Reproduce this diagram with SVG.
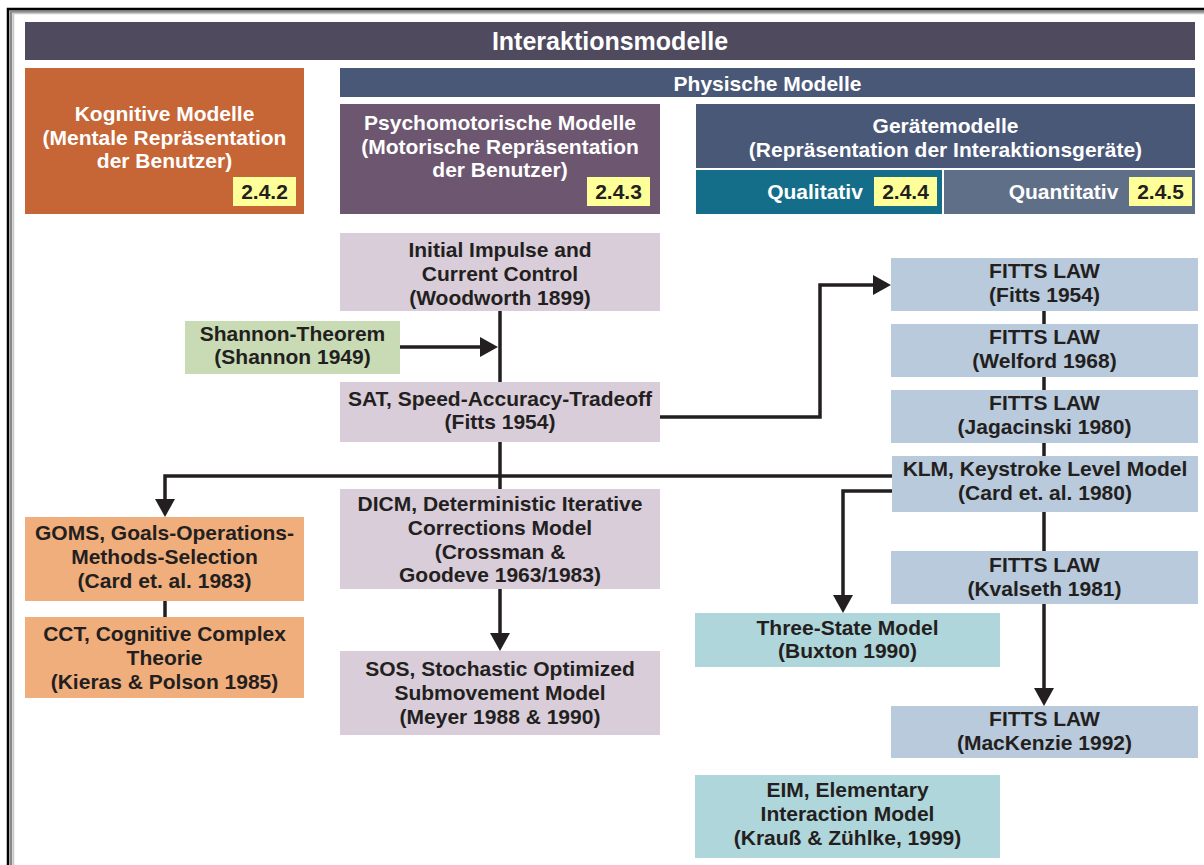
<svg xmlns="http://www.w3.org/2000/svg" width="1204" height="865" viewBox="0 0 1204 865">
<defs>
<style>
text{font-family:"Liberation Sans",Arial,Helvetica,sans-serif;font-weight:bold;text-anchor:middle}
.w{fill:#ffffff;font-size:21px}
.h{fill:#ffffff;font-size:25px}
.t{fill:#231f20;font-size:21px}
.b{fill:#231f20;font-size:21px}
.badge{fill:#ffff99}
.pur{fill:#d8cdd9}
.grn{fill:#c8dbb4}
.blu{fill:#b8cadb}
.teal{fill:#afd6db}
.org{fill:#f0ae7c}
.ln{fill:none;stroke:#231f20;stroke-width:3.5}
.ar{marker-end:url(#ah)}
</style>
<marker id="ah" markerUnits="userSpaceOnUse" markerWidth="18" markerHeight="20" refX="12" refY="10" orient="auto">
<path d="M0,0 L18,10 L0,20 z" fill="#231f20"/>
</marker>
</defs>
<rect x="0" y="0" width="1204" height="865" fill="#ffffff"/>
<g id="frame">
<path d="M13.5,865 V13.5 H1204" fill="none" stroke="#c8c8c8" stroke-width="1.5"/>
<path d="M11,865 V11.5 H1204" fill="none" stroke="#8a8a8a" stroke-width="2.5"/>
<path d="M8,865 V9 H1204" fill="none" stroke="#000000" stroke-width="2.5"/>
</g>
<g id="header">
<rect x="25" y="22" width="1170" height="38" fill="#4f4a5e"/>
<text class="h" x="610" y="50">Interaktionsmodelle</text>
</g>
<g id="kognitive">
<rect x="25" y="68" width="279" height="146" fill="#c66536"/>
<text class="w" x="164.5" y="121">Kognitive Modelle</text>
<text class="w" x="164.5" y="145">(Mentale Repräsentation</text>
<text class="w" x="164.5" y="168">der Benutzer)</text>
<rect class="badge" x="233" y="177" width="63" height="29"/>
<text class="b" x="264.5" y="199">2.4.2</text>
</g>
<g id="physische">
<rect x="340" y="68" width="855" height="29" fill="#4a5878"/>
<text class="w" x="767.5" y="91">Physische Modelle</text>
</g>
<g id="psychomotorische">
<rect x="340" y="104" width="320" height="110" fill="#6c5670"/>
<text class="w" x="500" y="130">Psychomotorische Modelle</text>
<text class="w" x="500" y="154">(Motorische Repräsentation</text>
<text class="w" x="500" y="177">der Benutzer)</text>
<rect class="badge" x="587" y="177" width="63" height="29"/>
<text class="b" x="618.5" y="199">2.4.3</text>
</g>
<g id="geraetemodelle">
<rect x="696" y="104" width="499" height="64" fill="#4a5878"/>
<text class="w" x="945.5" y="133">Gerätemodelle</text>
<text class="w" x="945.5" y="157">(Repräsentation der Interaktionsgeräte)</text>
</g>
<g id="qualitativ">
<rect x="696" y="170" width="246" height="44" fill="#146e8a"/>
<text class="w" x="815" y="199">Qualitativ</text>
<rect class="badge" x="874" y="177" width="63" height="29"/>
<text class="b" x="905.5" y="199">2.4.4</text>
</g>
<g id="quantitativ">
<rect x="944" y="170" width="251" height="44" fill="#5f6f87"/>
<text class="w" x="1063.5" y="199">Quantitativ</text>
<rect class="badge" x="1129" y="177" width="63" height="29"/>
<text class="b" x="1160.5" y="199">2.4.5</text>
</g>
<g id="connectors">
<path class="ln" d="M500,311 V489"/>
<path class="ln ar" d="M400,347 H492"/>
<path class="ln ar" d="M660,417 H820 V285 H885"/>
<path class="ln ar" d="M892,476 H165 V511"/>
<path class="ln ar" d="M892,491 H843 V607"/>
<path class="ln" d="M165,601 V617"/>
<path class="ln ar" d="M500,589 V645"/>
<path class="ln" d="M1044,311 V551"/>
<path class="ln ar" d="M1044,604 V700"/>
</g>
<g id="initial">
<rect class="pur" x="340" y="233" width="320" height="78"/>
<text class="t" x="500" y="257">Initial Impulse and</text>
<text class="t" x="500" y="281">Current Control</text>
<text class="t" x="500" y="305">(Woodworth 1899)</text>
</g>
<g id="shannon">
<rect class="grn" x="185" y="321" width="215" height="53"/>
<text class="t" x="292.5" y="341">Shannon-Theorem</text>
<text class="t" x="292.5" y="364">(Shannon 1949)</text>
</g>
<g id="sat">
<rect class="pur" x="340" y="382" width="320" height="60"/>
<text class="t" x="500" y="406">SAT, Speed-Accuracy-Tradeoff</text>
<text class="t" x="500" y="429">(Fitts 1954)</text>
</g>
<g id="dicm">
<rect class="pur" x="340" y="489" width="320" height="100"/>
<text class="t" x="500" y="511">DICM, Deterministic Iterative</text>
<text class="t" x="500" y="535">Corrections Model</text>
<text class="t" x="500" y="559">(Crossman &amp;</text>
<text class="t" x="500" y="582">Goodeve 1963/1983)</text>
</g>
<g id="sos">
<rect class="pur" x="340" y="651" width="320" height="84"/>
<text class="t" x="500" y="676">SOS, Stochastic Optimized</text>
<text class="t" x="500" y="700">Submovement Model</text>
<text class="t" x="500" y="724">(Meyer 1988 &amp; 1990)</text>
</g>
<g id="goms">
<rect class="org" x="25" y="517" width="279" height="84"/>
<text class="t" x="164.5" y="540">GOMS, Goals-Operations-</text>
<text class="t" x="164.5" y="564">Methods-Selection</text>
<text class="t" x="164.5" y="588">(Card et. al. 1983)</text>
</g>
<g id="cct">
<rect class="org" x="25" y="617" width="279" height="81"/>
<text class="t" x="164.5" y="641">CCT, Cognitive Complex</text>
<text class="t" x="164.5" y="665">Theorie</text>
<text class="t" x="164.5" y="689">(Kieras &amp; Polson 1985)</text>
</g>
<g id="fitts1954">
<rect class="blu" x="891" y="258" width="307" height="53"/>
<text class="t" x="1044.5" y="278">FITTS LAW</text>
<text class="t" x="1044.5" y="302">(Fitts 1954)</text>
</g>
<g id="fitts1968">
<rect class="blu" x="891" y="324" width="307" height="53"/>
<text class="t" x="1044.5" y="344">FITTS LAW</text>
<text class="t" x="1044.5" y="368">(Welford 1968)</text>
</g>
<g id="fitts1980">
<rect class="blu" x="891" y="390" width="307" height="53"/>
<text class="t" x="1044.5" y="410">FITTS LAW</text>
<text class="t" x="1044.5" y="434">(Jagacinski 1980)</text>
</g>
<g id="klm">
<rect class="blu" x="892" y="456" width="306" height="56"/>
<text class="t" x="1045" y="476">KLM, Keystroke Level Model</text>
<text class="t" x="1045" y="500">(Card et. al. 1980)</text>
</g>
<g id="fitts1981">
<rect class="blu" x="891" y="551" width="307" height="53"/>
<text class="t" x="1044.5" y="572">FITTS LAW</text>
<text class="t" x="1044.5" y="596">(Kvalseth 1981)</text>
</g>
<g id="fitts1992">
<rect class="blu" x="891" y="706" width="307" height="52"/>
<text class="t" x="1044.5" y="726">FITTS LAW</text>
<text class="t" x="1044.5" y="750">(MacKenzie 1992)</text>
</g>
<g id="threestate">
<rect class="teal" x="695" y="613" width="305" height="54"/>
<text class="t" x="847.5" y="635">Three-State Model</text>
<text class="t" x="847.5" y="658">(Buxton 1990)</text>
</g>
<g id="eim">
<rect class="teal" x="695" y="775" width="305" height="83"/>
<text class="t" x="847.5" y="797">EIM, Elementary</text>
<text class="t" x="847.5" y="821">Interaction Model</text>
<text class="t" x="847.5" y="845">(Krauß &amp; Zühlke, 1999)</text>
</g>
</svg>
